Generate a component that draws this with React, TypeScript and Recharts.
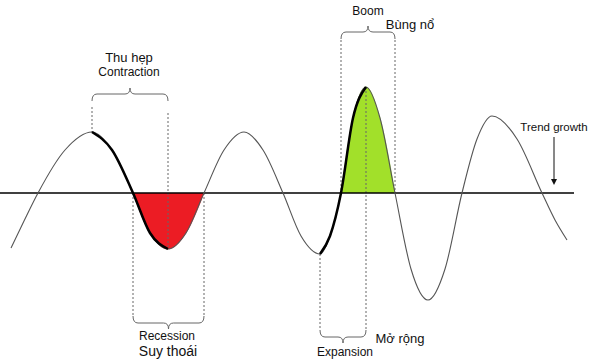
import {
  ComposedChart,
  Line,
  Area,
  XAxis,
  YAxis,
  ReferenceLine,
  ReferenceDot,
} from "recharts"

// wave: x in px, value = height above the trend line
const CURVE_X = [11, 24, 38, 65, 92, 112, 133, 150, 168, 186, 204, 224, 244, 263, 283, 301, 320, 330, 341, 353, 366, 380, 395, 411, 428, 445, 462, 477, 492, 517, 542, 555, 567]
const CURVE_Y = [-55, -28, 0, 43, 61, 43, 0, -40, -56, -40, 0, 43, 61, 43, 0, -43, -61, -43, 0, 75, 106, 75, 0, -76, -107, -76, 0, 54, 77, 54, 0, -27, -47]

// phases
const CONTRACTION: [number, number] = [92, 168]
const RECESSION: [number, number] = [133, 204]
const EXPANSION: [number, number] = [320, 366]
const BOOM: [number, number] = [341, 395]

const TREND_END = 574

// dashed guides: x, top value, bottom value
const GUIDES = [
  { x: 92, from: 86, to: 61 },
  { x: 168, from: 80, to: -56 },
  { x: 133, from: 0, to: -123 },
  { x: 204, from: 0, to: -123 },
  { x: 341, from: 153, to: 0 },
  { x: 395, from: 153, to: 0 },
  { x: 366, from: 106, to: -137 },
  { x: 320, from: -61, to: -137 },
]

// braces: range, line level, tip direction (-1 up, 1 down)
const BRACES = [
  { range: CONTRACTION, y: 99, dir: -1 },
  { range: BOOM, y: 161, dir: -1 },
  { range: RECESSION, y: -130, dir: 1 },
  { range: EXPANSION, y: -144, dir: 1 },
]

const LABELS = [
  { text: "Thu hẹp", x: 129, y: 136, size: 13 },
  { text: "Contraction", x: 129, y: 121, size: 12 },
  { text: "Boom", x: 368, y: 182, size: 12 },
  { text: "Bùng nổ", x: 410, y: 169, size: 13 },
  { text: "Recession", x: 167, y: -143, size: 12 },
  { text: "Suy thoái", x: 168, y: -158, size: 14 },
  { text: "Mở rộng", x: 400, y: -145, size: 13 },
  { text: "Expansion", x: 345, y: -159, size: 12 },
  { text: "Trend growth", x: 554, y: 66, size: 11.5 },
]

const ARROW = { x: 554, from: 56, to: 8 }

const inside = (x: number, r: [number, number]) => x >= r[0] && x <= r[1]

const data = CURVE_X.map((x, i) => {
  const y = CURVE_Y[i]
  return {
    x,
    y,
    bold: inside(x, CONTRACTION) || inside(x, EXPANSION) ? y : null,
    red: inside(x, RECESSION) ? y : null,
    green: inside(x, BOOM) ? y : null,
  }
})

const FONT = '"Liberation Sans", Arial, sans-serif'

function braceShape(dir: number) {
  // eslint-disable-next-line @typescript-eslint/no-explicit-any
  return (p: any) => {
    const { x1, x2, y1 } = p
    const xm = (x1 + x2) / 2
    const y = y1
    const r = 5
    const h = 7
    const t = 6
    const d = `M${x1},${y - dir * h} Q${x1},${y} ${x1 + r},${y} L${xm - r},${y} Q${xm},${y} ${xm},${y + dir * t} Q${xm},${y} ${xm + r},${y} L${x2 - r},${y} Q${x2},${y} ${x2},${y - dir * h}`
    return <path d={d} fill="none" stroke="#666" strokeWidth={1} />
  }
}

// eslint-disable-next-line @typescript-eslint/no-explicit-any
function arrowShape(p: any) {
  const { x1, y1, y2 } = p
  return (
    <g>
      <line x1={x1} y1={y1} x2={x1} y2={y2 - 5} stroke="#111" strokeWidth={1} />
      <path d={`M${x1 - 3},${y2 - 6} L${x1 + 3},${y2 - 6} L${x1},${y2} Z`} fill="#111" />
    </g>
  )
}

function textShape(text: string, size: number) {
  // eslint-disable-next-line @typescript-eslint/no-explicit-any
  return (p: any) => (
    <text
      x={p.cx}
      y={p.cy}
      textAnchor="middle"
      dominantBaseline="central"
      fontFamily={FONT}
      fontSize={size}
      fill="#111"
    >
      {text}
    </text>
  )
}

export default function App() {
  return (
    <div style={{ position: "absolute", left: 0, top: 0, background: "#fff" }}>
      <ComposedChart
        width={610}
        height={361}
        data={data}
        margin={{ top: 0, right: 0, bottom: 0, left: 0 }}
      >
        <XAxis dataKey="x" type="number" domain={[0, 610]} hide allowDataOverflow />
        <YAxis type="number" domain={[-168, 193]} hide allowDataOverflow />

        <Area
          dataKey="red"
          type="monotone"
          baseValue={0}
          fill="#ec1c24"
          fillOpacity={1}
          stroke="#ec1c24"
          strokeWidth={0.5}
          dot={false}
          activeDot={false}
          isAnimationActive={false}
        />
        <Area
          dataKey="green"
          type="monotone"
          baseValue={0}
          fill="#a2e02a"
          fillOpacity={1}
          stroke="#a2e02a"
          strokeWidth={0.5}
          dot={false}
          activeDot={false}
          isAnimationActive={false}
        />

        {GUIDES.map((g, i) => (
          <ReferenceLine
            key={"g" + i}
            segment={[{ x: g.x, y: g.from }, { x: g.x, y: g.to }]}
            stroke="#666"
            strokeWidth={1}
            strokeDasharray="2 2"
          />
        ))}

        <ReferenceLine
          segment={[{ x: 0, y: 0 }, { x: TREND_END, y: 0 }]}
          stroke="#000"
          strokeWidth={1.5}
        />

        <Line
          dataKey="y"
          type="monotone"
          stroke="#555"
          strokeWidth={1.1}
          dot={false}
          activeDot={false}
          isAnimationActive={false}
        />
        <Line
          dataKey="bold"
          type="monotone"
          stroke="#000"
          strokeWidth={2.5}
          dot={false}
          activeDot={false}
          isAnimationActive={false}
        />

        {BRACES.map((b, i) => (
          <ReferenceLine
            key={"b" + i}
            segment={[{ x: b.range[0], y: b.y }, { x: b.range[1], y: b.y }]}
            shape={braceShape(b.dir)}
          />
        ))}

        <ReferenceLine
          segment={[{ x: ARROW.x, y: ARROW.from }, { x: ARROW.x, y: ARROW.to }]}
          shape={arrowShape}
        />

        {LABELS.map((l, i) => (
          <ReferenceDot
            key={"l" + i}
            x={l.x}
            y={l.y}
            r={0}
            shape={textShape(l.text, l.size)}
          />
        ))}
      </ComposedChart>
    </div>
  )
}
